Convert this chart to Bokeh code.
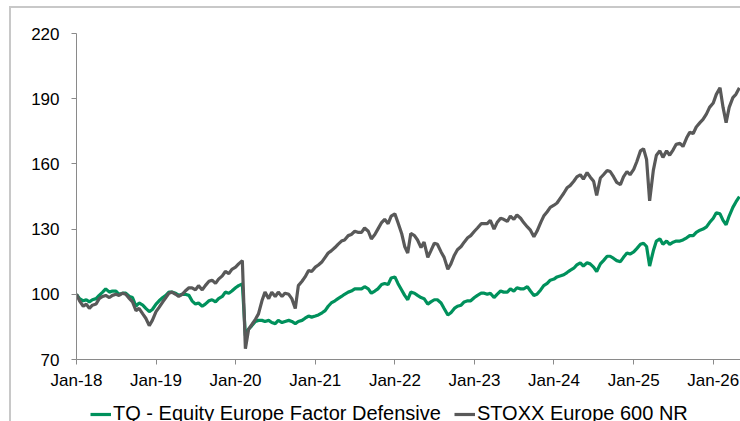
import pandas as pd
from datetime import datetime
from bokeh.plotting import figure
from bokeh.layouts import column
from bokeh.models import (ColumnDataSource, Legend, LegendItem, FixedTicker,
                          DatetimeTickFormatter, Range1d)
from bokeh.embed import file_html
from bokeh.resources import INLINE

# semi-monthly observations (1st and 15th of each month), Jan-2018 .. May-2026
start_date = "2018-01-01"
n_obs = 201

stoxx = [
    100, 97, 94.5, 95.5, 93.5, 95, 95.5, 98, 99, 99.5,
    98.5, 99.5, 100, 99.5, 100.5, 100, 98, 96.5, 92.5, 93.5,
    91, 89, 85.6, 88, 92, 94, 96.5, 98.5, 100.5, 101,
    100, 99, 100, 101.5, 103, 103, 102, 104, 102, 104,
    106, 106.5, 105, 107, 108.5, 110.5, 109.5, 111.5, 112.5, 114,
    115.5, 75, 84, 86, 88.5, 91, 97, 101, 98, 101,
    99, 101, 99, 100.5, 100, 98, 93.5, 104, 106, 108,
    111, 110.5, 112.5, 113.5, 115, 117, 119, 120, 121.5, 123,
    124.5, 125, 127, 127.5, 129, 128.5, 128.5, 130.5, 129, 125.5,
    127.5, 130, 133, 134.5, 132.5, 136, 137, 133, 128, 122,
    119, 128, 127, 125, 121.5, 124, 117, 120, 123.5, 123,
    119.5, 117, 111.5, 114, 118, 120.5, 122, 124, 126, 127,
    129, 130.5, 132.5, 132.5, 132.5, 134, 130, 133, 135, 134.5,
    133.5, 136, 134.5, 136.5, 135, 133, 131, 129.5, 126.5, 129,
    133, 136, 138, 140, 141, 142, 144.5, 146.5, 149, 150,
    152, 154, 155, 153, 156, 154, 152, 145.5, 153.5, 155,
    157, 156.5, 154, 151.5, 150.5, 154, 156.5, 155, 157.5, 161,
    166, 167, 162, 143, 157, 164, 166, 163, 166, 164,
    166.5, 169, 169.5, 168, 172, 174.5, 174, 177, 179, 180.5,
    183, 186, 188, 192, 195, 186, 179, 186, 190.5, 192,
    195,
]

defensive = [
    100, 98, 97, 97.5, 96.5, 97.5, 98, 99.5, 101, 102.5,
    101, 101.5, 101.5, 100, 100.5, 100.5, 99, 98.5, 94.5, 96,
    95, 93.5, 92, 93, 95.5, 97, 98.5, 99.5, 101, 101,
    100.5, 99.5, 100, 100, 99.5, 97, 95.5, 96, 94.5, 95.5,
    97, 97.5, 96.5, 98, 99, 101, 100.5, 101.5, 103, 104,
    104.8, 81, 84, 85.5, 87.5, 88, 88, 87.5, 88, 87,
    86.5, 88, 87, 87.5, 88, 87.5, 86.5, 87.5, 88, 89,
    90, 89.5, 90, 90.5, 91.5, 92.5, 94.5, 96, 97, 98,
    99, 100, 101, 101.5, 102.5, 102.5, 102.5, 103.5, 102.5, 100.5,
    101.5, 102.5, 104.5, 105, 104.5, 107.5, 108, 105, 102, 99.5,
    97.5, 101, 100.5, 99.5, 98.5, 98, 95.5, 96.5, 97.5, 97.5,
    96, 93.5, 90.5, 91.5, 93.5, 94.5, 95, 96.5, 97, 97,
    98.5, 99.5, 100.5, 100.5, 100, 100.5, 98.5, 100, 101.5, 101,
    101, 102.5, 101.5, 103, 102.5, 102.5, 103.5, 101.5, 99.5, 100,
    102, 104, 105, 106.5, 107, 108, 108.5, 109, 110, 111,
    112, 113.5, 114.5, 113, 114.5, 114, 112.5, 110.5, 114, 115.5,
    117.5, 117.5, 116.5, 115.5, 115, 117, 119, 118.5, 119.5, 121,
    123, 123.5, 122, 113, 120, 124.5, 125.5, 123, 124.5, 123,
    124, 124.5, 124.5, 125, 126, 127, 127, 128.5, 129.5, 130,
    131, 133, 135, 137.5, 137, 134, 132, 136, 140, 142.5,
    145,
]

series_names = ["TQ - Equity Europe Factor Defensive", "STOXX Europe 600 NR"]
series_colors = ["#00915c", "#595959"]
tick_years = list(range(2018, 2027))
y_ticks = [70, 100, 130, 160, 190, 220]

dates = pd.date_range(start_date, periods=n_obs, freq="SMS")
src = ColumnDataSource(dict(date=dates, stoxx=stoxx, defensive=defensive))

font = "Liberation Sans"
x_start, x_end = datetime(2018, 1, 1), datetime(2026, 5, 6)

p = figure(width=729, height=384, x_axis_type="datetime",
           output_backend="svg", toolbar_location=None,
           x_range=Range1d(x_start, x_end),
           y_range=Range1d(70, 220),
           min_border_left=65, min_border_right=0, min_border_top=25,
           min_border_bottom=31)
p.outline_line_color = None
p.background_fill_color = "white"
p.border_fill_color = "white"
p.grid.visible = False

r1 = p.line("date", "defensive", source=src, line_color=series_colors[0], line_width=3.2)
r2 = p.line("date", "stoxx", source=src, line_color=series_colors[1], line_width=3.2)

for ax in (p.xaxis[0], p.yaxis[0]):
    ax.axis_line_color = "#8a8a8a"
    ax.major_tick_line_color = "#8a8a8a"
    ax.minor_tick_line_color = None
    ax.major_tick_in = 0
    ax.major_tick_out = 5
    ax.major_label_text_font = font
    ax.major_label_text_font_size = "17px"
    ax.major_label_text_color = "#000000"

tick_ms = [pd.Timestamp(f"{y}-01-01").value / 1e6 for y in tick_years]
p.xaxis[0].ticker = FixedTicker(ticks=tick_ms)
p.xaxis[0].formatter = DatetimeTickFormatter(years="%b-%y", months="%b-%y", days="%b-%y")
p.xaxis[0].major_label_standoff = 6
p.yaxis[0].ticker = FixedTicker(ticks=y_ticks)
p.yaxis[0].major_label_standoff = 12

# legend strip below the chart (series drawn out of its view, only the legend shows)
lg = figure(width=729, height=29, x_axis_type="datetime",
            output_backend="svg", toolbar_location=None,
            x_axis_location=None, y_axis_location=None,
            x_range=Range1d(x_start, x_end), y_range=Range1d(0, 1),
            min_border_left=0, min_border_right=0, min_border_top=0,
            min_border_bottom=0)
lg.outline_line_color = None
lg.grid.visible = False
lg.background_fill_color = "white"
lg.border_fill_color = "white"
l1 = lg.line("date", "defensive", source=src, line_color=series_colors[0], line_width=3.2)
l2 = lg.line("date", "stoxx", source=src, line_color=series_colors[1], line_width=3.2)

legend = Legend(items=[LegendItem(label=series_names[0], renderers=[l1]),
                       LegendItem(label=series_names[1], renderers=[l2])],
                orientation="horizontal", location=(14, -4),
                label_text_font=font, label_text_font_size="20px",
                label_text_color="#000000",
                glyph_width=21, label_standoff=2, spacing=13,
                padding=2, margin=0, border_line_color=None,
                background_fill_alpha=0)
lg.add_layout(legend, "center")

layout = column(p, lg, spacing=0)
layout.styles = {"margin-left": "9px", "margin-top": "6px",
                 "border-left": "2px solid #c8c8c8",
                 "border-top": "2px solid #c8c8c8"}

open("out.html", "w").write(file_html(layout, INLINE))
